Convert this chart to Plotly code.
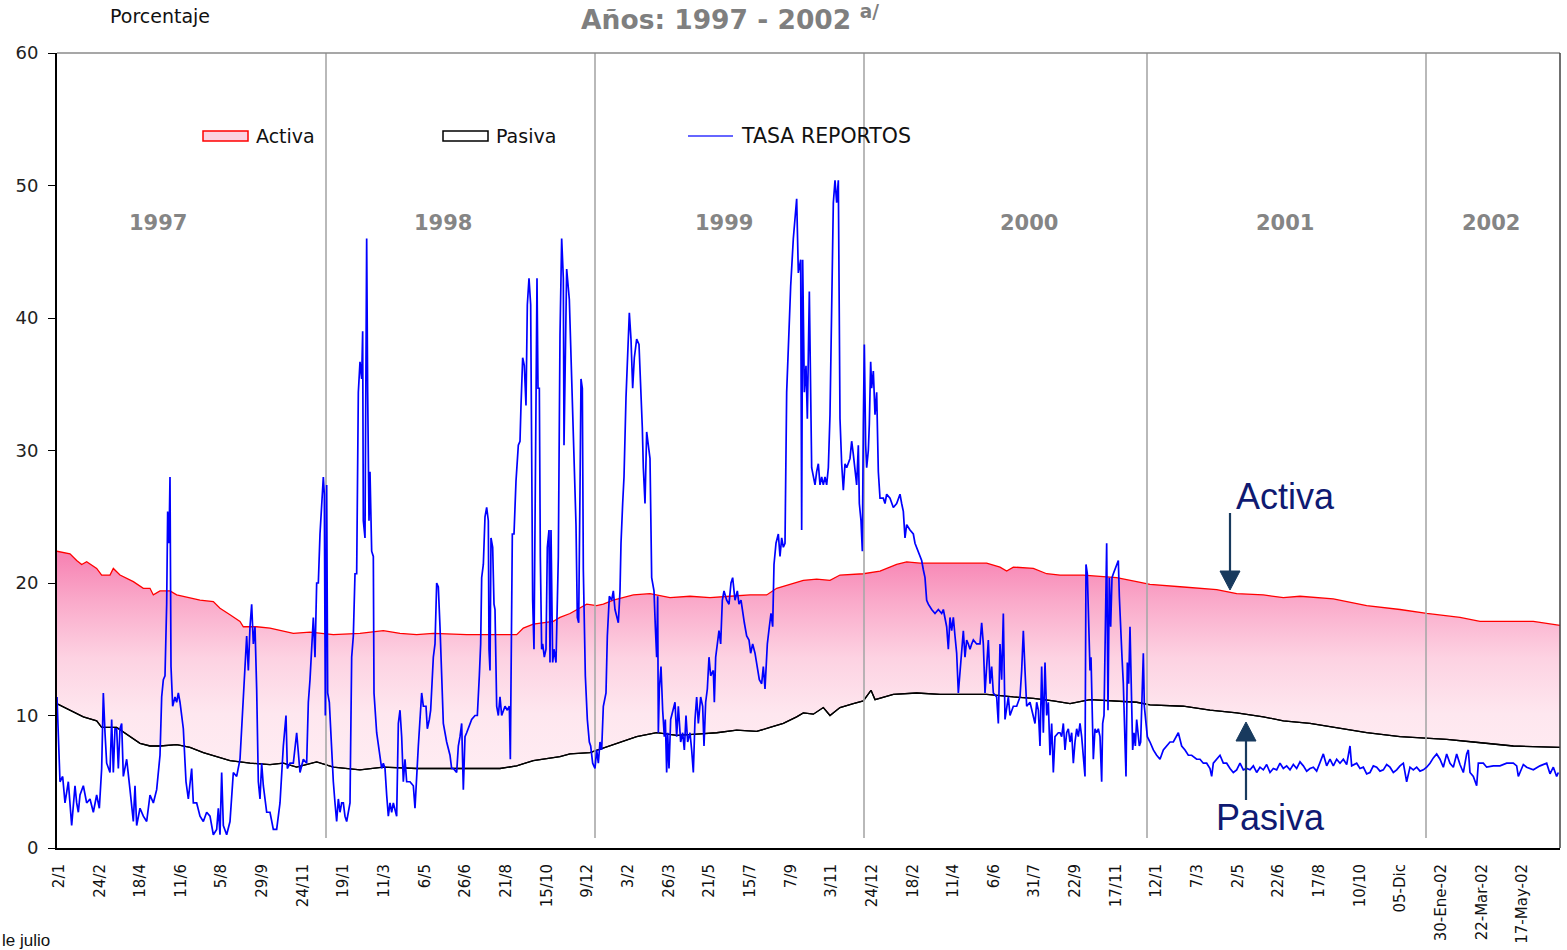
import plotly.graph_objects as go

# ---------------- DATA ----------------
# x unit: observation index (business-day sequence, ~122 obs between tick labels)
TICK_STEP = 121.95
TICK_LABELS = ["2/1", "24/2", "18/4", "11/6", "5/8", "29/9", "24/11", "19/1", "11/3", "6/5",
               "26/6", "21/8", "15/10", "9/12", "3/2", "26/3", "21/5", "15/7", "7/9", "3/11",
               "24/12", "18/2", "11/4", "6/6", "31/7", "22/9", "17/11", "12/1", "7/3", "2/5",
               "22/6", "17/8", "10/10", "05-Dic", "30-Ene-02", "22-Mar-02", "17-May-02"]

YEARS = ["1997", "1998", "1999", "2000", "2001", "2002"]
YEAR_LABEL_OBS = [297, 1152, 1995, 2910, 3678, 4296]
YEAR_BOUNDS = [801, 1608, 2415, 3264, 4101]

ACTIVA_X = [-7, 33, 53, 68, 83, 113, 128, 153, 163, 183, 223, 253, 273, 283, 303, 333, 353, 393, 423,
            463, 483, 513, 543, 553, 593, 633, 673, 703, 753, 823, 903, 973, 1023, 1073, 1123, 1223,
            1323, 1373, 1393, 1423, 1483, 1503, 1533, 1568, 1583, 1613, 1633, 1663, 1723, 1773, 1833,
            1893, 1953, 2013, 2073, 2123, 2153, 2193, 2233, 2273, 2313, 2343, 2413, 2463, 2513, 2543,
            2583, 2643, 2703, 2783, 2823, 2843, 2863, 2923, 2963, 3003, 3073, 3123, 3173, 3233, 3273,
            3373, 3423, 3473, 3533, 3613, 3673, 3723, 3823, 3923, 4023, 4103, 4203, 4263, 4423, 4503]
ACTIVA_Y = [22.4, 22.2, 21.7, 21.4, 21.6, 21.1, 20.6, 20.6, 21.1, 20.6, 20.1, 19.6, 19.6, 19.1, 19.4,
            19.4, 19.1, 18.9, 18.7, 18.6, 18.1, 17.6, 17.1, 16.7, 16.7, 16.6, 16.4, 16.2, 16.3, 16.1,
            16.2, 16.4, 16.2, 16.1, 16.2, 16.1, 16.1, 16.1, 16.6, 16.9, 17.1, 17.4, 17.7, 18.2, 18.4,
            18.3, 18.4, 18.7, 19.1, 19.2, 18.9, 19.0, 18.9, 19.0, 19.1, 19.1, 19.6, 19.9, 20.2, 20.3,
            20.2, 20.6, 20.7, 20.9, 21.4, 21.6, 21.5, 21.5, 21.5, 21.5, 21.2, 20.9, 21.2, 21.1, 20.7,
            20.6, 20.6, 20.5, 20.4, 20.1, 19.9, 19.7, 19.6, 19.5, 19.2, 19.1, 18.9, 19.0, 18.8, 18.3,
            18.0, 17.7, 17.4, 17.1, 17.1, 16.8]

PASIVA_X = [-7, 33, 73, 113, 128, 173, 213, 243, 273, 303, 353, 393, 433, 473, 513, 573, 633, 673, 713,
            773, 823, 903, 973, 1073, 1223, 1323, 1373, 1423, 1503, 1533, 1593, 1673, 1733, 1793, 1853,
            1913, 1973, 2033, 2093, 2133, 2173, 2213, 2233, 2263, 2293, 2313, 2343, 2383, 2413, 2436,
            2448, 2503, 2573, 2643, 2703, 2783, 2863, 2923, 2983, 3033, 3093, 3173, 3233, 3273, 3373,
            3453, 3533, 3613, 3673, 3753, 3823, 3923, 4023, 4163, 4243, 4363, 4503]
PASIVA_Y = [10.9, 10.4, 9.9, 9.6, 9.1, 9.1, 8.4, 7.9, 7.7, 7.7, 7.8, 7.6, 7.2, 6.9, 6.6, 6.4, 6.3, 6.4,
            6.1, 6.5, 6.1, 5.9, 6.1, 6.0, 6.0, 6.0, 6.2, 6.6, 6.9, 7.1, 7.2, 7.9, 8.4, 8.7, 8.5, 8.6,
            8.7, 8.9, 8.8, 9.1, 9.4, 9.9, 10.2, 10.1, 10.6, 10.0, 10.6, 10.9, 11.1, 11.9, 11.2, 11.6,
            11.7, 11.6, 11.6, 11.6, 11.4, 11.3, 11.1, 10.9, 11.2, 11.1, 11.0, 10.8, 10.7, 10.4, 10.2,
            9.9, 9.6, 9.4, 9.1, 8.7, 8.4, 8.2, 8.0, 7.7, 7.6]

REP_PART1 = [(-6, 11.4), (-2, 9.0), (3, 5.0), (11, 5.4), (18, 3.4), (28, 5.0), (38, 1.7), (48, 4.7),
             (53, 3.4), (58, 2.7), (63, 4.0), (73, 4.7), (83, 3.4), (93, 3.7), (103, 2.7), (113, 4.0),
             (121, 3.0), (128, 6.0), (133, 11.7), (138, 8.7), (143, 6.4), (153, 5.7), (158, 9.7),
             (163, 5.7), (168, 9.0), (173, 9.0), (178, 6.0), (183, 9.0), (188, 9.4), (193, 5.4),
             (203, 6.7), (213, 4.4), (223, 2.0), (228, 4.7), (233, 1.7), (243, 3.0), (253, 2.4),
             (263, 2.0), (273, 4.0), (283, 3.4), (293, 4.4), (303, 7.0), (308, 11.4), (313, 12.7),
             (318, 13.0), (323, 18.4), (326, 25.4), (330, 23.0), (333, 28.0), (336, 13.7), (341, 10.7),
             (348, 11.4), (353, 11.0), (358, 11.7), (363, 11.0), (373, 9.0), (381, 5.0), (388, 3.7),
             (398, 6.0), (403, 3.4), (413, 3.4), (423, 2.4), (433, 2.0), (443, 2.7), (453, 2.4),
             (463, 1.0), (473, 1.4), (478, 3.0), (483, 1.0), (488, 5.7), (493, 1.7), (503, 1.0),
             (513, 2.0), (523, 5.7), (533, 5.4), (543, 6.7), (548, 9.0), (553, 11.0), (563, 16.0),
             (568, 13.4), (573, 16.7), (578, 18.4), (583, 15.4), (588, 16.7), (593, 12.0), (598, 5.0),
             (603, 3.7), (608, 6.4), (613, 4.7), (623, 2.7), (633, 2.7), (643, 1.4), (653, 1.4),
             (663, 3.4), (673, 7.7), (681, 10.0), (685, 6.0), (693, 6.4), (703, 6.4), (713, 8.7),
             (723, 5.7), (733, 6.7), (743, 6.4), (748, 11.0), (753, 12.7)]
REP_PART2 = [(763, 17.4), (768, 14.4), (773, 20.0), (778, 20.0), (783, 23.7), (788, 25.7), (793, 28.0),
             (796, 26.7), (799, 10.0), (803, 27.4), (806, 11.7), (811, 11.0), (818, 7.0), (823, 5.0),
             (828, 3.4), (833, 2.0), (838, 3.7), (843, 2.7), (848, 3.4), (853, 3.4), (858, 2.4),
             (863, 2.0), (873, 3.4), (878, 14.4), (883, 16.0), (888, 20.7), (893, 20.7), (898, 34.4),
             (903, 36.7), (908, 35.4), (911, 39.0), (913, 24.7), (918, 23.4), (923, 46.0), (926, 34.4),
             (930, 24.7), (933, 28.4), (938, 22.4), (943, 22.0), (945, 11.7), (953, 8.7), (963, 6.7),
             (968, 6.0), (973, 6.4), (978, 6.0), (983, 4.0), (988, 2.4), (993, 3.4), (998, 2.7),
             (1003, 3.4), (1013, 2.4), (1018, 9.4), (1023, 10.4), (1028, 8.4), (1033, 5.0), (1038, 6.7),
             (1043, 5.0), (1053, 5.0), (1063, 4.7), (1068, 3.0), (1073, 6.0), (1078, 7.7), (1088, 11.7),
             (1093, 10.7), (1101, 10.7), (1105, 9.0), (1111, 9.7), (1115, 10.4), (1123, 14.4),
             (1128, 15.4), (1133, 20.0), (1138, 19.7), (1143, 16.7), (1148, 12.0), (1153, 9.4),
             (1163, 8.0), (1173, 7.0), (1178, 6.0), (1183, 6.0), (1193, 5.7), (1198, 7.7), (1203, 8.4),
             (1208, 9.4), (1213, 4.4), (1218, 8.4), (1223, 8.7), (1228, 9.0), (1233, 9.4), (1238, 9.7),
             (1248, 10.0), (1255, 10.0), (1261, 13.0), (1265, 15.4), (1268, 20.4), (1273, 21.4),
             (1278, 25.0), (1283, 25.7), (1288, 24.7), (1290, 15.0), (1293, 13.4), (1296, 23.4),
             (1301, 22.7), (1305, 18.4), (1308, 18.0), (1313, 10.7), (1318, 10.0), (1323, 11.4),
             (1328, 10.0), (1333, 10.4), (1338, 10.7), (1345, 10.4), (1351, 10.7), (1354, 6.7),
             (1357, 18.4), (1360, 23.7), (1365, 23.7), (1371, 27.7), (1378, 30.4), (1383, 30.7),
             (1386, 33.4), (1391, 37.0), (1396, 36.4), (1401, 33.4), (1405, 41.0), (1410, 43.0),
             (1415, 41.0), (1418, 27.0), (1421, 18.7), (1425, 15.0), (1428, 27.0), (1431, 35.0),
             (1434, 43.0), (1437, 34.7), (1441, 34.7), (1444, 22.0), (1448, 15.0), (1451, 15.4),
             (1456, 14.4), (1461, 15.0), (1465, 22.7), (1470, 24.0), (1473, 14.0)]
REP_PART3 = [(1476, 24.0), (1481, 14.0), (1485, 15.0), (1491, 14.0), (1498, 22.0), (1501, 36.0),
             (1503, 38.7), (1508, 46.0), (1513, 43.0), (1515, 30.4), (1523, 43.7), (1531, 41.4),
             (1538, 35.4), (1541, 31.7), (1546, 27.0), (1551, 24.4), (1555, 17.4), (1559, 17.0),
             (1563, 27.0), (1566, 35.4), (1570, 34.7), (1573, 21.0), (1579, 13.0), (1585, 9.7),
             (1591, 8.0), (1595, 7.7), (1601, 6.4), (1608, 6.0), (1613, 7.4), (1618, 6.4), (1623, 8.0),
             (1628, 7.4), (1633, 10.7), (1641, 11.7), (1645, 16.0), (1651, 19.0), (1658, 18.7),
             (1663, 19.4), (1668, 18.0), (1678, 17.0), (1683, 19.4), (1686, 23.0), (1691, 26.0),
             (1695, 28.0), (1701, 34.0), (1705, 37.0), (1711, 40.4), (1716, 38.4), (1721, 34.7),
             (1726, 37.0), (1733, 38.4), (1740, 38.0), (1745, 35.4), (1750, 31.7), (1753, 28.7),
             (1758, 26.0), (1763, 31.4), (1768, 30.4), (1773, 29.4), (1778, 20.4), (1785, 19.4),
             (1789, 16.7), (1793, 14.4), (1796, 19.0), (1798, 8.7), (1801, 12.0), (1806, 13.7),
             (1811, 10.4), (1816, 8.4), (1819, 9.7), (1823, 5.7), (1826, 8.7), (1830, 6.0), (1835, 9.7),
             (1841, 10.4), (1848, 11.0), (1853, 8.4), (1858, 10.7), (1865, 8.0), (1871, 8.7),
             (1876, 7.4), (1881, 10.0), (1886, 8.0), (1893, 8.7), (1898, 7.4), (1903, 5.7), (1908, 9.7),
             (1913, 11.4), (1918, 9.4), (1925, 11.4), (1931, 10.7), (1935, 7.7), (1940, 11.0),
             (1945, 12.0), (1950, 14.4), (1955, 13.0), (1963, 13.4), (1966, 11.0), (1970, 14.4),
             (1975, 15.4), (1980, 16.4), (1985, 15.4), (1990, 18.7), (1995, 19.4), (2003, 18.7),
             (2010, 18.4), (2016, 20.0), (2021, 20.4), (2028, 18.7), (2035, 19.4), (2040, 18.4),
             (2046, 18.7), (2051, 18.0), (2056, 17.0), (2063, 16.0), (2070, 15.7), (2075, 14.7),
             (2081, 15.4), (2088, 14.7), (2093, 14.0), (2101, 12.7), (2108, 12.4), (2113, 13.7),
             (2118, 12.0), (2125, 15.4), (2131, 16.7), (2136, 17.7), (2141, 16.7), (2145, 21.4),
             (2151, 23.0), (2158, 23.7), (2163, 22.0), (2168, 23.4), (2173, 22.7), (2178, 23.0),
             (2183, 34.4), (2191, 40.4), (2195, 42.4), (2203, 46.0), (2208, 47.7), (2213, 49.0),
             (2218, 43.4), (2225, 44.4), (2228, 24.0), (2231, 44.4), (2236, 34.4), (2241, 36.4),
             (2245, 32.4), (2251, 42.0)]
REP_PART4 = [(2258, 28.7), (2263, 28.0), (2268, 27.4), (2273, 28.4), (2278, 29.0), (2283, 27.4),
             (2288, 28.0), (2293, 27.4), (2298, 28.0), (2303, 27.4), (2308, 28.7), (2313, 32.7),
             (2318, 40.7), (2323, 48.7), (2328, 50.4), (2333, 48.7), (2338, 50.4), (2343, 32.4),
             (2348, 29.0), (2353, 27.0), (2358, 29.0), (2363, 28.7), (2373, 29.4), (2378, 30.7),
             (2383, 29.7), (2388, 28.7), (2393, 27.4), (2398, 30.4), (2401, 26.0), (2406, 24.7),
             (2410, 22.4), (2413, 32.0), (2416, 38.0), (2420, 30.4), (2423, 28.7), (2428, 30.0),
             (2431, 32.0), (2435, 36.7), (2438, 34.7), (2443, 36.0), (2448, 32.7), (2453, 34.4),
             (2458, 28.4), (2463, 26.4), (2473, 26.4), (2478, 26.0), (2483, 26.7), (2493, 26.4),
             (2503, 25.7), (2513, 26.0), (2523, 26.7), (2528, 26.0), (2533, 25.4), (2538, 23.4),
             (2543, 24.4), (2553, 24.0), (2563, 23.7), (2568, 23.0), (2578, 22.4), (2588, 21.7),
             (2593, 21.0), (2598, 20.4), (2603, 18.7), (2608, 18.4), (2618, 18.0), (2628, 17.7),
             (2638, 18.0), (2648, 17.7), (2653, 18.0), (2658, 17.4), (2663, 16.7), (2668, 15.0),
             (2673, 17.4), (2678, 16.4), (2683, 17.4), (2688, 16.0), (2693, 14.7), (2698, 11.7),
             (2703, 13.4), (2708, 15.4), (2713, 16.4), (2718, 14.4), (2723, 15.7), (2728, 15.4),
             (2733, 15.0), (2738, 15.4), (2743, 15.7), (2753, 15.4), (2763, 15.4), (2768, 17.0),
             (2773, 15.4), (2778, 11.7), (2783, 14.0), (2788, 15.7), (2793, 12.4), (2798, 13.7),
             (2803, 11.7), (2813, 11.4), (2818, 9.4), (2823, 15.4), (2828, 12.7), (2833, 17.7),
             (2838, 9.7), (2843, 10.4), (2848, 11.4), (2853, 10.0), (2863, 10.7), (2873, 10.7),
             (2883, 11.4), (2888, 13.4), (2893, 16.4), (2898, 13.4), (2903, 10.7), (2913, 11.0),
             (2918, 10.4), (2923, 10.0), (2928, 9.4), (2933, 11.0), (2938, 10.4), (2943, 7.7),
             (2948, 13.7), (2953, 8.7), (2958, 14.0), (2963, 10.0), (2968, 11.0), (2973, 7.0),
             (2978, 9.4), (2983, 5.7), (2988, 8.4), (2998, 8.7)]
REP_PART5 = [(3003, 8.7), (3008, 8.4), (3013, 9.4), (3018, 7.4), (3023, 8.7), (3028, 9.0), (3033, 8.0),
             (3038, 8.7), (3043, 6.4), (3048, 8.0), (3053, 9.0), (3058, 8.4), (3063, 9.4), (3068, 8.4),
             (3073, 7.0), (3078, 5.4), (3081, 21.4), (3085, 20.7), (3088, 18.0), (3093, 13.4),
             (3096, 14.4), (3100, 9.7), (3103, 6.7), (3108, 9.0), (3113, 8.7), (3118, 9.0), (3123, 8.4),
             (3128, 5.0), (3131, 9.4), (3135, 10.0), (3139, 15.4), (3143, 23.0), (3147, 10.4),
             (3151, 20.4), (3155, 16.7), (3159, 20.4), (3163, 20.7), (3168, 21.0), (3173, 21.4),
             (3178, 21.7), (3181, 19.0), (3185, 16.0), (3189, 14.4), (3193, 12.4), (3198, 8.0),
             (3201, 5.4), (3205, 14.0), (3209, 12.4), (3213, 16.7), (3217, 12.7), (3221, 7.4),
             (3225, 8.7), (3229, 7.7), (3233, 9.7), (3237, 8.7), (3241, 7.7), (3245, 8.0), (3249, 11.4),
             (3253, 14.7), (3256, 10.7), (3261, 9.4), (3265, 8.4), (3273, 8.0), (3283, 7.4), (3293, 7.0),
             (3303, 6.7), (3313, 7.4), (3323, 7.7), (3333, 8.0), (3343, 8.0), (3353, 8.4), (3358, 8.7),
             (3368, 7.7), (3378, 7.4), (3388, 7.0), (3398, 7.0), (3413, 6.7), (3423, 6.7), (3433, 6.4),
             (3443, 6.4), (3453, 6.0), (3458, 5.4), (3463, 6.4), (3473, 6.7), (3483, 7.0), (3493, 6.4),
             (3503, 6.4), (3513, 6.0), (3523, 5.7), (3533, 5.9), (3543, 6.4), (3553, 5.9), (3563, 6.0),
             (3573, 5.9), (3583, 6.2), (3593, 5.7), (3603, 6.1), (3613, 5.9), (3623, 6.3), (3633, 5.7),
             (3643, 6.0), (3653, 5.9), (3663, 6.4), (3673, 6.0), (3683, 6.2), (3693, 5.9), (3703, 6.3),
             (3713, 6.0), (3723, 6.5), (3733, 6.2), (3743, 5.8), (3753, 6.0)]
REP_PART6 = [(3763, 6.1), (3773, 5.8), (3783, 6.4), (3793, 7.1), (3803, 6.2), (3813, 6.7), (3823, 6.2),
             (3833, 6.7), (3843, 6.4), (3853, 6.7), (3863, 6.3), (3873, 7.7), (3878, 6.2), (3893, 6.4),
             (3903, 6.0), (3913, 6.1), (3923, 5.6), (3933, 5.7), (3943, 6.2), (3953, 6.1), (3963, 5.8),
             (3973, 5.9), (3983, 6.3), (3993, 6.1), (4003, 5.7), (4013, 5.9), (4023, 6.2), (4033, 6.4),
             (4043, 5.0), (4053, 6.1), (4063, 5.9), (4073, 6.1), (4083, 5.8), (4093, 5.9), (4103, 6.1),
             (4113, 6.4), (4123, 6.8), (4133, 7.1), (4143, 6.7), (4153, 6.1), (4163, 7.1), (4173, 6.4),
             (4183, 6.1), (4193, 7.1), (4203, 6.3), (4213, 5.7), (4223, 7.1), (4228, 7.4), (4233, 5.7),
             (4243, 5.4), (4253, 4.7), (4258, 6.4), (4273, 6.4), (4283, 6.1), (4303, 6.2), (4323, 6.2),
             (4343, 6.4), (4363, 6.4), (4373, 6.2), (4378, 5.4), (4383, 5.7), (4393, 6.3), (4403, 6.1),
             (4423, 5.9), (4443, 6.2), (4463, 6.4), (4473, 5.6), (4483, 6.1), (4493, 5.4), (4498, 5.7)]

REP = REP_PART1 + REP_PART2 + REP_PART3 + REP_PART4 + REP_PART5 + REP_PART6
REP_X = [p[0] for p in REP]
REP_Y = [p[1] for p in REP]

# ---------------- FIGURE ----------------
W, H = 1567, 950
ML, MR, MT, MB = 57, 7, 53, 102
PW, PH = W - ML - MR, H - MT - MB


def px(xp):
    return (xp - ML) / PW


def py(yp):
    return (H - MB - yp) / PH


fig = go.Figure()

fig.add_trace(go.Scatter(x=PASIVA_X, y=PASIVA_Y, mode="lines",
                         line=dict(color="black", width=1.3), showlegend=False, hoverinfo="skip"))
fig.add_trace(go.Scatter(x=ACTIVA_X, y=ACTIVA_Y, mode="lines",
                         line=dict(color="#ff0000", width=1.3), fill="tonexty",
                         fillgradient=dict(type="vertical", start=5, stop=22,
                                           colorscale=[[0, "rgb(255,237,243)"],
                                                       [0.3, "rgb(254,231,239)"],
                                                       [0.55, "rgb(253,210,226)"],
                                                       [0.8, "rgb(250,170,202)"],
                                                       [1, "rgb(247,132,180)"]]),
                         showlegend=False, hoverinfo="skip"))
# redraw pasiva line on top of fill
fig.add_trace(go.Scatter(x=PASIVA_X, y=PASIVA_Y, mode="lines",
                         line=dict(color="black", width=1.3), showlegend=False, hoverinfo="skip"))

# year separators
sep_x, sep_y = [], []
for b in YEAR_BOUNDS:
    sep_x += [b, b, None]
    sep_y += [0.75, 60, None]
fig.add_trace(go.Scatter(x=sep_x, y=sep_y, mode="lines",
                         line=dict(color="#a8a8a8", width=1.6), showlegend=False, hoverinfo="skip"))

fig.add_trace(go.Scatter(x=REP_X, y=REP_Y, mode="lines",
                         line=dict(color="#0000ff", width=1.7), showlegend=False, hoverinfo="skip"))

annotations = []
for lab, xo in zip(YEARS, YEAR_LABEL_OBS):
    annotations.append(dict(x=xo, y=47.2, xref="x", yref="y", text="<b>" + lab + "</b>",
                            showarrow=False, font=dict(family="DejaVu Sans", size=21, color="#858585")))

# Porcentaje
annotations.append(dict(x=px(108), y=py(16), xref="paper", yref="paper", text="Porcentaje",
                        xanchor="left", yanchor="middle", showarrow=False,
                        font=dict(family="DejaVu Sans", size=19, color="#111111")))
# footnote fragment
annotations.append(dict(x=px(0), y=py(940), xref="paper", yref="paper", text="le julio",
                        xanchor="left", yanchor="middle", showarrow=False,
                        font=dict(family="Liberation Sans", size=17, color="#111111")))

# legend (manual)
for xt, txt, fs in [(254, "Activa", 19), (494, "Pasiva", 19), (739, "TASA REPORTOS", 20.5)]:
    annotations.append(dict(x=px(xt), y=py(136), xref="paper", yref="paper", text=txt,
                            xanchor="left", yanchor="middle", showarrow=False,
                            font=dict(family="DejaVu Sans", size=fs, color="#111111")))

# big callouts
call_font = dict(family="Liberation Sans", size=36, color="#0f1a72")
annotations.append(dict(x=3678, y=26.5, xref="x", yref="y", text="Activa", showarrow=False,
                        font=call_font))
annotations.append(dict(x=3633, y=2.3, xref="x", yref="y", text="Pasiva", showarrow=False,
                        font=call_font))

ARROW_COLOR = "#183a5e"


def arrow_shapes(xp, y_tail, y_tip):
    d = 1 if y_tip > y_tail else -1
    base = y_tip - d * 19
    return [
        dict(type="line", xref="paper", yref="paper", x0=px(xp), x1=px(xp),
             y0=py(y_tail), y1=py(base), line=dict(color=ARROW_COLOR, width=2.2)),
        dict(type="path", xref="paper", yref="paper",
             path="M {},{} L {},{} L {},{} Z".format(px(xp - 10), py(base), px(xp + 10), py(base),
                                                    px(xp), py(y_tip)),
             line=dict(color=ARROW_COLOR, width=1), fillcolor=ARROW_COLOR),
    ]


shapes = [
    # legend swatches
    dict(type="rect", xref="paper", yref="paper", x0=px(203), x1=px(248), y0=py(141), y1=py(131),
         line=dict(color="#ff0000", width=1.5), fillcolor="#fbd3e2"),
    dict(type="rect", xref="paper", yref="paper", x0=px(443), x1=px(488), y0=py(141), y1=py(131),
         line=dict(color="black", width=1.5), fillcolor="white"),
    dict(type="line", xref="paper", yref="paper", x0=px(688), x1=px(733), y0=py(136), y1=py(136),
         line=dict(color="#3333ff", width=1.5)),
    # top and right border
    dict(type="line", xref="paper", yref="paper", x0=0, x1=1, y0=1, y1=1,
         line=dict(color="#8a8a8a", width=1.5)),
    dict(type="line", xref="paper", yref="paper", x0=1, x1=1, y0=0, y1=1,
         line=dict(color="#404040", width=1.5)),
]
shapes += arrow_shapes(1230, 513, 590)
shapes += arrow_shapes(1246, 800, 722)

fig.update_layout(
    width=W, height=H,
    margin=dict(l=ML, r=MR, t=MT, b=MB, pad=0),
    paper_bgcolor="white", plot_bgcolor="white",
    showlegend=False,
    title=dict(text="<b>Años: 1997 - 2002</b> <sup><b>a/</b></sup>", x=730 / W, y=1 - 20 / H,
               xref="container", yref="container", xanchor="center", yanchor="middle",
               font=dict(family="DejaVu Sans", size=26.5, color="#7f7f7f")),
    xaxis=dict(range=[-6, 4503], tickmode="array",
               tickvals=[round(i * TICK_STEP, 1) for i in range(len(TICK_LABELS))],
               ticktext=TICK_LABELS, tickangle=-90, ticks="", ticklabelstandoff=8,
               tickfont=dict(family="DejaVu Sans", size=15, color="#111111"),
               showgrid=False, zeroline=False, showline=True, linecolor="black", linewidth=2),
    yaxis=dict(range=[0, 60], dtick=10, ticks="outside", ticklen=7, tickcolor="black",
               tickfont=dict(family="DejaVu Sans", size=18, color="#222222"), ticklabelstandoff=6,
               showgrid=False, zeroline=False, showline=True, linecolor="black", linewidth=2),
    annotations=annotations,
    shapes=shapes,
)

fig.write_html("out.html")
